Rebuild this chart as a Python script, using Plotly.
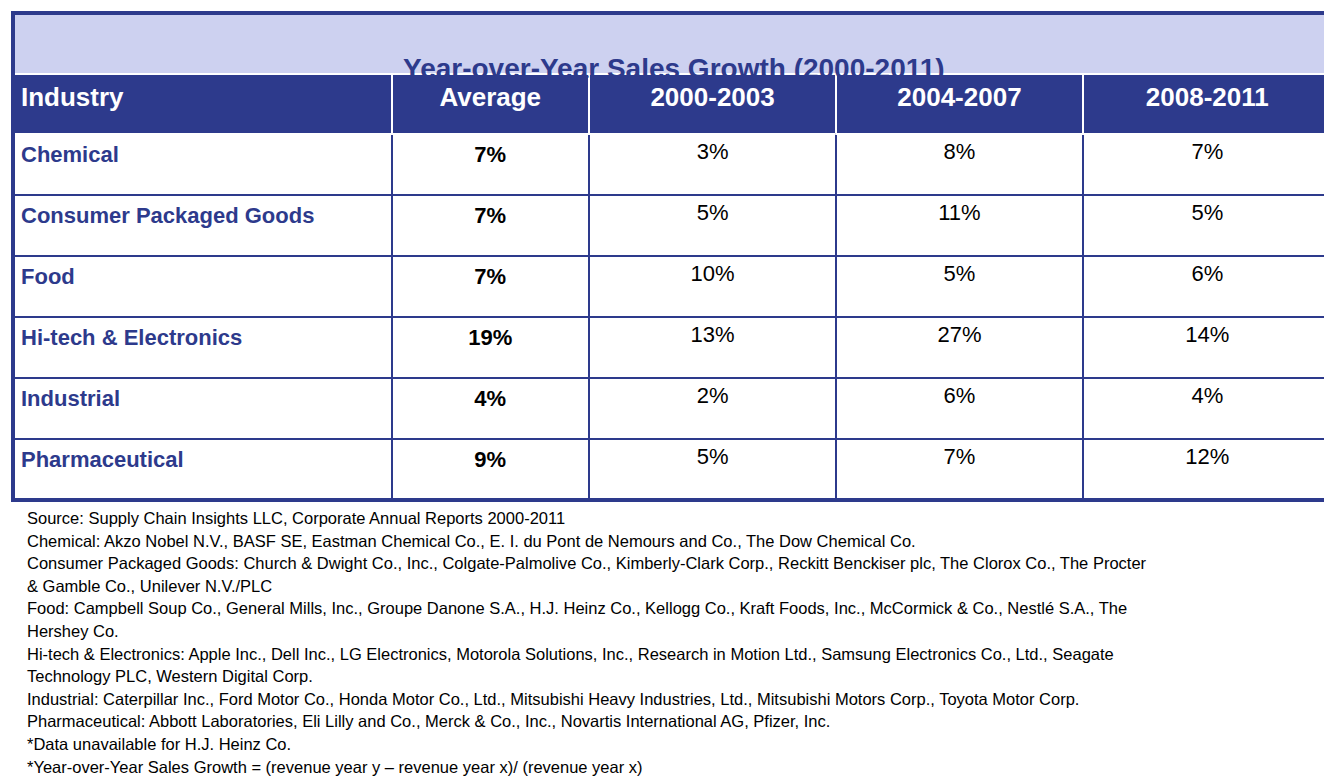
import plotly.graph_objects as go

industries = ["Chemical", "Consumer Packaged Goods", "Food", "Hi-tech & Electronics", "Industrial", "Pharmaceutical"]
average = ["7%", "7%", "7%", "19%", "4%", "9%"]
p2000_2003 = ["3%", "5%", "10%", "13%", "2%", "5%"]
p2004_2007 = ["8%", "11%", "5%", "27%", "6%", "7%"]
p2008_2011 = ["7%", "5%", "6%", "14%", "4%", "12%"]
headers = ["Industry", "Average", "2000-2003", "2004-2007", "2008-2011"]
title = "Year-over-Year Sales Growth (2000-2011)"
notes = [
    "Source: Supply Chain Insights LLC, Corporate Annual Reports 2000-2011",
    "Chemical: Akzo Nobel N.V., BASF SE, Eastman Chemical Co., E. I. du Pont de Nemours and Co., The Dow Chemical Co.",
    "Consumer Packaged Goods: Church & Dwight Co., Inc., Colgate-Palmolive Co., Kimberly-Clark Corp., Reckitt Benckiser plc, The Clorox Co., The Procter",
    "& Gamble Co., Unilever N.V./PLC",
    "Food: Campbell Soup Co., General Mills, Inc., Groupe Danone S.A., H.J. Heinz Co., Kellogg Co., Kraft Foods, Inc., McCormick & Co., Nestlé S.A., The",
    "Hershey Co.",
    "Hi-tech & Electronics: Apple Inc., Dell Inc., LG Electronics, Motorola Solutions, Inc., Research in Motion Ltd., Samsung Electronics Co., Ltd., Seagate",
    "Technology PLC, Western Digital Corp.",
    "Industrial: Caterpillar Inc., Ford Motor Co., Honda Motor Co., Ltd., Mitsubishi Heavy Industries, Ltd., Mitsubishi Motors Corp., Toyota Motor Corp.",
    "Pharmaceutical: Abbott Laboratories, Eli Lilly and Co., Merck & Co., Inc., Novartis International AG, Pfizer, Inc.",
    "*Data unavailable for H.J. Heinz Co.",
    "*Year-over-Year Sales Growth = (revenue year y \u2013 revenue year x)/ (revenue year x)",
]

W, H = 1332, 782
BLUE = "#2d3a8c"
FONT = "Liberation Sans, Arial"

def px(x): return x / W
def py(y): return 1 - y / H

fig = go.Figure(go.Table(
    domain=dict(x=[px(5), px(1324)], y=[py(492), py(66)]),
    columnwidth=[378, 197, 247, 246, 249],
    header=dict(values=["<b>%s</b>" % h for h in headers], fill_color=BLUE,
                line=dict(color="white", width=2), height=60,
                align=["left", "center", "center", "center", "center"],
                font=dict(family=FONT, size=26, color="white")),
    cells=dict(values=[["<b>%s</b>" % i for i in industries], ["<b>%s</b>" % a for a in average],
                       p2000_2003, p2004_2007, p2008_2011],
               fill_color="white", line=dict(color=BLUE, width=2), height=61,
               align=["left", "center", "center", "center", "center"],
               font=dict(family=FONT, size=22, color=[BLUE, "black", "black", "black", "black"])),
))

shapes = [
    dict(type="rect", xref="paper", yref="paper", x0=px(5), x1=px(1325), y0=py(66), y1=py(6),
         fillcolor="#cdd1f0", line=dict(width=0), layer="below"),
    dict(type="rect", xref="paper", yref="paper", x0=px(5), x1=px(1325), y0=py(492), y1=py(5),
         line=dict(color=BLUE, width=4)),
]
annotations = [dict(text="<b>%s</b>" % title, x=0.5, y=py(43), xref="paper", yref="paper",
                    showarrow=False, font=dict(family=FONT, size=28, color=BLUE))]
for i, n in enumerate(notes):
    annotations.append(dict(text=n, x=px(17), y=py(510 + i * 22.6), xref="paper", yref="paper",
                            xanchor="left", yanchor="middle", showarrow=False,
                            font=dict(family=FONT, size=16.5, color="black")))

fig.update_layout(width=W, height=H, margin=dict(l=0, r=0, t=0, b=0),
                  paper_bgcolor="white", shapes=shapes, annotations=annotations)
fig.write_html("out.html")
